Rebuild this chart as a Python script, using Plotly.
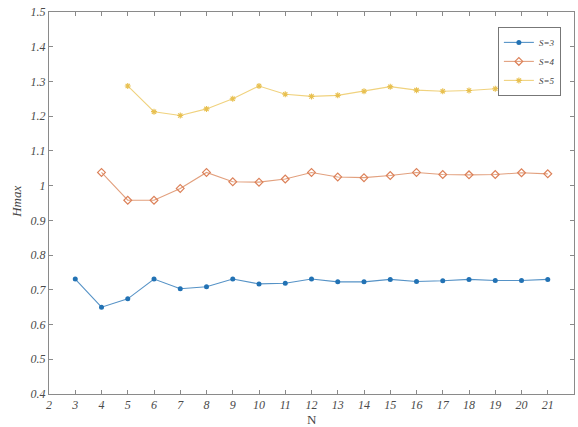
import plotly.graph_objects as go

N3 = list(range(3, 22))
S3 = [0.731, 0.650, 0.674, 0.731, 0.703, 0.709, 0.731, 0.717, 0.719, 0.731,
      0.723, 0.723, 0.730, 0.724, 0.726, 0.730, 0.727, 0.727, 0.730]
N4 = list(range(4, 22))
S4 = [1.038, 0.958, 0.958, 0.992, 1.038, 1.011, 1.010, 1.019, 1.038, 1.025,
      1.023, 1.029, 1.038, 1.032, 1.031, 1.032, 1.037, 1.034]
N5 = list(range(5, 22))
S5 = [1.287, 1.213, 1.202, 1.221, 1.250, 1.287, 1.263, 1.257, 1.260, 1.272,
      1.285, 1.275, 1.272, 1.274, 1.279, 1.287, 1.280]

x_ticks = list(range(2, 23))
x_labels = [str(v) for v in x_ticks]
y_ticks = [0.4, 0.5, 0.6, 0.7, 0.8, 0.9, 1.0, 1.1, 1.2, 1.3, 1.4, 1.5]
y_labels = ["0.4", "0.5", "0.6", "0.7", "0.8", "0.9", "1", "1.1", "1.2", "1.3", "1.4", "1.5"]

FONT = "Liberation Serif"
AXC = "#8a8a8a"
TXT = "#4a4a4a"

fig = go.Figure()
fig.add_trace(go.Scatter(
    x=N3, y=S3, name="S=3", mode="lines+markers",
    line=dict(color="#5592c6", width=1.1),
    marker=dict(symbol="circle", size=5, color="#2272b4"),
))
fig.add_trace(go.Scatter(
    x=N4, y=S4, name="S=4", mode="lines+markers",
    line=dict(color="#e2a07e", width=1.1),
    marker=dict(symbol="diamond-open", size=6, color="#dc8058", line=dict(width=1.2)),
))
fig.add_trace(go.Scatter(
    x=N5, y=S5, name="S=5", mode="lines+markers",
    line=dict(color="#f0d27e", width=1.1),
    marker=dict(symbol="asterisk-open", size=5, color="#e8c050", line=dict(width=1.1)),
))

axis_common = dict(
    showgrid=False, zeroline=False, showline=True, linecolor=AXC, linewidth=1,
    ticks="inside", ticklen=4, tickcolor=AXC, mirror="ticks",
    tickfont=dict(family=FONT, size=12, color=TXT, style="italic"),
)

fig.update_layout(
    width=578, height=427,
    margin=dict(l=49, r=4, t=12, b=33),
    paper_bgcolor="white", plot_bgcolor="white",
    showlegend=True,
    legend=dict(
        x=0.855, y=0.961, xanchor="left", yanchor="top",
        bordercolor="#777777", borderwidth=1, bgcolor="white",
        font=dict(family=FONT, size=9, color="#444444", style="italic"),
        itemwidth=30, tracegroupgap=0,
    ),
    xaxis=dict(
        range=[2, 22], tickmode="array", tickvals=x_ticks, ticktext=x_labels,
        **axis_common,
    ),
    yaxis=dict(
        range=[0.4, 1.5], tickmode="array", tickvals=y_ticks, ticktext=y_labels,
        **axis_common,
    ),
    annotations=[
        dict(text="N", xref="paper", yref="paper", x=0.5, y=-0.066,
             xanchor="center", yanchor="middle", showarrow=False,
             font=dict(family=FONT, size=13, color="#444444")),
        dict(text="Hmax", xref="paper", yref="paper", x=-0.061, y=0.503,
             xanchor="center", yanchor="middle", showarrow=False, textangle=-90,
             font=dict(family=FONT, size=13, color="#444444", style="italic")),
    ],
)

fig.write_html(
    "out.html",
    config={"displayModeBar": False},
    post_script="document.body.style.margin='0';document.body.style.overflow='hidden';",
)
